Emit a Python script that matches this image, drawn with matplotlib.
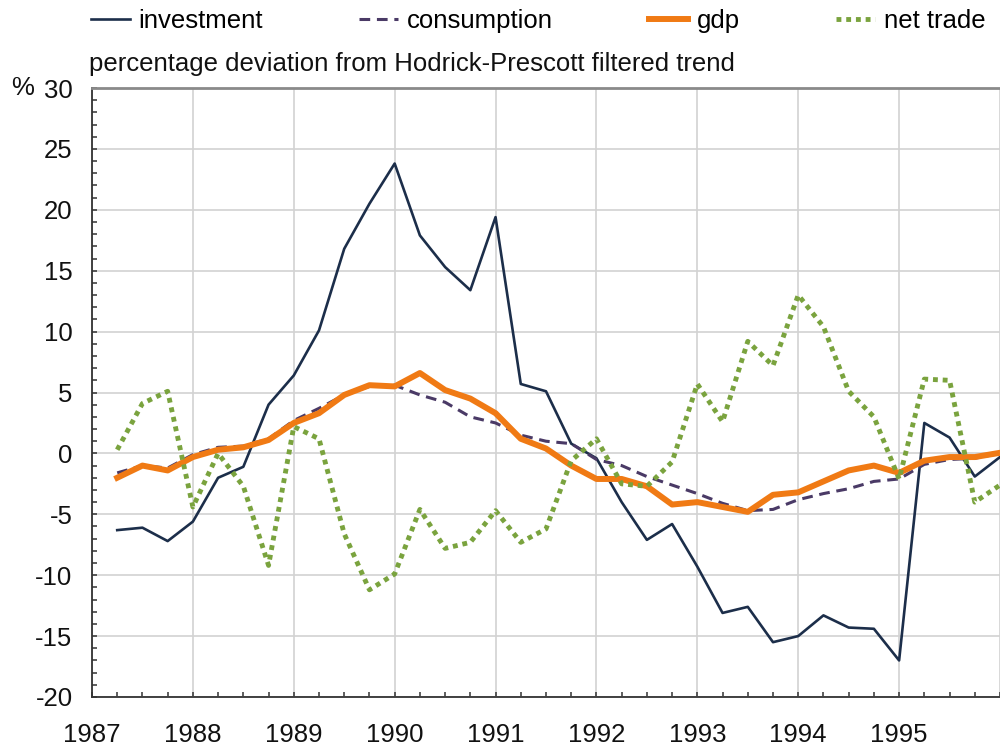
import numpy as np
import matplotlib
matplotlib.use('Agg')
import matplotlib.pyplot as plt
from matplotlib.ticker import MultipleLocator

plt.rcParams['font.family'] = ['Liberation Sans', 'DejaVu Sans']
plt.rcParams['axes.unicode_minus'] = False

# Quarterly observations, 1987 Q2 .. 1996 Q1
quarters = 1987 + 0.25 * np.arange(1, 37)

investment = [-6.3, -6.1, -7.2, -5.6, -2.0, -1.1, 4.0, 6.4, 10.1, 16.8, 20.5, 23.8,
              17.9, 15.3, 13.4, 19.4, 5.7, 5.1, 0.8, -0.4, -4.0, -7.1, -5.8, -9.3,
              -13.1, -12.6, -15.5, -15.0, -13.3, -14.3, -14.4, -17.0, 2.5, 1.3, -1.9, -0.3]
consumption = [-1.6, -1.0, -1.2, -0.1, 0.5, 0.6, 1.2, 2.7, 3.7, 4.8, 5.5, 5.6,
               4.8, 4.2, 3.0, 2.5, 1.5, 1.0, 0.8, -0.5, -1.0, -1.9, -2.6, -3.3,
               -4.1, -4.7, -4.6, -3.8, -3.3, -2.9, -2.3, -2.1, -0.9, -0.5, -0.4, 0.0]
gdp = [-2.0, -1.0, -1.4, -0.3, 0.3, 0.5, 1.1, 2.5, 3.3, 4.8, 5.6, 5.5,
       6.6, 5.2, 4.5, 3.3, 1.2, 0.4, -1.0, -2.1, -2.1, -2.7, -4.2, -4.0,
       -4.4, -4.8, -3.4, -3.2, -2.3, -1.4, -1.0, -1.6, -0.6, -0.3, -0.3, 0.05]
net_trade = [0.3, 4.1, 5.1, -4.4, 0.0, -2.7, -9.2, 2.2, 1.2, -6.6, -11.2, -9.9,
             -4.6, -7.8, -7.3, -4.7, -7.3, -6.2, -0.6, 1.2, -2.5, -2.7, -0.7, 5.7,
             2.6, 9.2, 7.2, 13.0, 10.4, 5.1, 3.0, -2.1, 6.1, 6.0, -4.0, -2.6]

years = list(range(1987, 1997))
year_labels = [str(y) for y in range(1987, 1996)] + ['']

FS = 18.5

fig = plt.figure(figsize=(10, 7.53), dpi=100)
ax = fig.add_axes([0.092, 0.0744, 0.908, 0.8087])

ax.plot(quarters, investment, color='#1c2e4a', lw=1.9, label='investment')
ax.plot(quarters, consumption, color='#4a3a66', lw=2.2, dashes=(3.5, 2.2), label='consumption')
ax.plot(quarters, gdp, color='#f07a14', lw=4.3, solid_joinstyle='round', label='gdp')
ax.plot(quarters, net_trade, color='#7aa33e', lw=3.5, dashes=(1, 1), label='net trade')

ax.set_xlim(1987, 1996)
ax.set_ylim(-20, 30)
ax.set_xticks(years)
ax.set_xticklabels(year_labels)
ax.xaxis.set_minor_locator(MultipleLocator(0.25))
ax.yaxis.set_major_locator(MultipleLocator(5))
ax.yaxis.set_minor_locator(MultipleLocator(1))

ax.grid(True, which='major', color='#d2d2d2', lw=1.2)
ax.set_axisbelow(True)

ax.spines['right'].set_visible(False)
ax.spines['top'].set_color('#8a8a8a')
ax.spines['top'].set_linewidth(2)
ax.spines['left'].set_color('#333333')
ax.spines['bottom'].set_color('#333333')
ax.spines['left'].set_linewidth(1.3)
ax.spines['bottom'].set_linewidth(1.3)

ax.tick_params(axis='both', which='both', direction='in', length=3.3, width=1.1,
               color='#333333', labelsize=FS, labelcolor='#111111')
ax.tick_params(axis='x', which='both', top=False, pad=19)
ax.tick_params(axis='y', which='both', right=False, pad=14)

fig.text(0.011, 1 - 88 / 753, '%', fontsize=FS, va='center', ha='left', color='#111111')
fig.text(0.089, 1 - 64 / 753, 'percentage deviation from Hodrick-Prescott filtered trend',
         fontsize=FS, va='center', ha='left', color='#111111')

fig.legend(loc='center left', bbox_to_anchor=(0.091, 1 - 21 / 753), ncol=4, frameon=False,
           fontsize=FS, handlelength=1.5, handletextpad=0.35, columnspacing=3.75,
           borderaxespad=0, borderpad=0)

fig.savefig('out.png', dpi=100)
